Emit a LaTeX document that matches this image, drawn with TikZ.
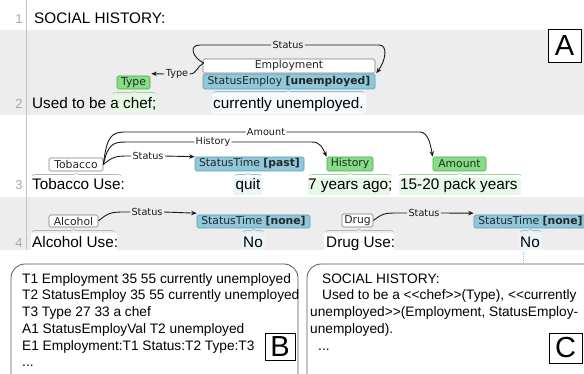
\documentclass[tikz,border=0pt]{standalone}
\usepackage{fontspec}
\setmainfont{Liberation Sans}[Ligatures=TeXOff]
\newfontfamily\labf{DejaVu Sans}
\usetikzlibrary{arrows.meta,decorations.pathreplacing,calc}
\definecolor{rowgray}{HTML}{EDEDED}
\definecolor{gfill}{HTML}{85DE85}
\definecolor{gdraw}{HTML}{4FA34F}
\definecolor{bfill}{HTML}{8FC7DB}
\definecolor{bdraw}{HTML}{5A9BB3}
\definecolor{wdraw}{HTML}{7A7A7A}
\definecolor{ghl}{HTML}{E7F8E7}
\definecolor{bhl}{HTML}{EAF4F9}
\definecolor{whl}{HTML}{F5FAFC}
\definecolor{lnum}{HTML}{A8A8A8}
\definecolor{gbrace}{HTML}{9FD69F}
\definecolor{bbrace}{HTML}{8FBFD0}
\definecolor{wbrace}{HTML}{B5B5B5}
\begin{document}
\begin{tikzpicture}[x=1pt,y=-1pt,
  ent/.style={draw, rounded corners=1.5pt, inner sep=0pt, line width=0.6pt, font=\labf\fontsize{10.8}{12}\selectfont, text=black!85},
  went/.style={ent, fill=white, draw=wdraw},
  gent/.style={ent, fill=gfill, draw=gdraw},
  bent/.style={ent, fill=bfill, draw=bdraw},
  arcl/.style={font=\labf\fontsize{9.7}{11}\selectfont, inner sep=1.2pt, text=black!90},
  arc/.style={line width=0.9pt, draw=black!90},
  arr/.style={arc, -{Stealth[length=5.5pt,width=4.5pt]}},
  brc/.style={decorate, decoration={brace, amplitude=3pt}, line width=0.6pt},
  txt/.style={anchor=base west, inner sep=0pt, font=\fontsize{15.3}{18}\selectfont},
  ctxt/.style={txt, anchor=base},
  num/.style={anchor=base, inner sep=0pt, font=\fontsize{13}{15}\selectfont, text=lnum},
  body/.style={anchor=base west, inner sep=0pt, font=\fontsize{13.7}{16}\selectfont},
  big/.style={draw, line width=0.8pt, fill=white, inner sep=0pt, font=\fontsize{29}{30}\selectfont},
  panel/.style={draw=black!65, line width=0.8pt, rounded corners=14pt}]
\useasboundingbox (0,0) rectangle (584,374);
\clip (0,0) rectangle (584,374);
% row backgrounds
\fill[rowgray] (0,30) rectangle (584,115);
\fill[rowgray] (0,197) rectangle (584,250);
\draw[lnum!70, line width=1pt] (26,0) -- (26,250);
% highlights
\fill[ghl, rounded corners=2pt] (112,95) rectangle (157,113);
\fill[whl, rounded corners=2pt] (212,93) rectangle (366,114);
\fill[bhl, rounded corners=2pt] (233,178) rectangle (262,195);
\fill[ghl, rounded corners=2pt] (308,178) rectangle (391,195);
\fill[ghl, rounded corners=2pt] (399,178) rectangle (521,195);
\fill[white, rounded corners=2pt] (31,233) rectangle (117,250);
\fill[bhl, rounded corners=2pt] (242,233) rectangle (265,250);
\fill[white, rounded corners=2pt] (324,233) rectangle (394,250);
\fill[bhl, rounded corners=2pt] (519,233) rectangle (542,250);
% line numbers
\node[num] (n1) at (19,24) {1};
\node[num] (n2) at (19,109) {2};
\node[num] (n3) at (19,190) {3};
\node[num] (n4) at (19,248) {4};
% text
\node[txt] (t1) at (34,24) {SOCIAL HISTORY:};
\node[txt] (t2a) at (32,109) {Used to be a chef;};
\node[txt] (t2b) at (213,109) {currently unemployed.};
\node[txt] (t3a) at (32,190) {Tobacco Use:};
\node[ctxt] (t3b) at (248,190) {quit};
\node[txt] (t3c) at (308,190) {7 years ago;};
\node[txt] (t3d) at (400,190) {15-20 pack years};
\node[txt] (t4a) at (32,248) {Alcohol Use:};
\node[ctxt] (t4b) at (253,248) {No};
\node[txt] (t4c) at (326,248) {Drug Use:};
\node[ctxt] (t4d) at (530,248) {No};
% braces
\draw[brc, gbrace] (113,94) -- (156,94);
\draw[brc, bbrace] (213,93) -- (364,93);
\draw[brc, wbrace] (32,176) -- (121,176);
\draw[brc, bbrace] (235,176) -- (261,176);
\draw[brc, gbrace] (309,176) -- (391,176);
\draw[brc, gbrace] (399,176) -- (521,176);
\draw[brc, wbrace] (32,232) -- (115,232);
\draw[brc, bbrace] (243,232) -- (264,232);
\draw[brc, wbrace] (325,232) -- (393,232);
\draw[brc, bbrace] (520,232) -- (541,232);
\draw[gray!60, dash pattern=on 1pt off 1pt] (t4d.south) ++(-7,4) coordinate (dl) -- ++(0,12);
% entity boxes
\node[gent, minimum width=33pt, minimum height=13pt] (ty) at (133.5,82.5) {Type};
\node[went, minimum width=172pt, minimum height=14pt] (emp) at (289,66) {Employment};
\node[bent, minimum width=172pt, minimum height=15pt] (se) at (289,81.5) {StatusEmploy \textbf{[unemployed]}};
\node[went, minimum width=54pt, minimum height=13pt] (tob) at (76,164.5) {Tobacco};
\node[bent, minimum width=109pt, minimum height=14pt] (stp) at (249.5,164) {StatusTime \textbf{[past]}};
\node[gent, minimum width=46pt, minimum height=14pt] (his) at (350,164) {History};
\node[gent, minimum width=53pt, minimum height=14pt] (amt) at (459.5,164) {Amount};
\node[went, minimum width=49pt, minimum height=12pt] (alc) at (73.5,221) {Alcohol};
\node[bent, minimum width=113pt, minimum height=13pt] (stn) at (253.5,221.5) {StatusTime \textbf{[none]}};
\node[went, minimum width=31pt, minimum height=13pt] (drg) at (357.5,220.5) {Drug};
\node[bent, minimum width=113pt, minimum height=13pt] (stn2) at (530.5,221.5) {StatusTime \textbf{[none]}};
% arc labels
\node[arcl] (l2s) at (288,45) {Status};
\node[arcl] (l2t) at (177,74) {Type};
\node[arcl] (l3s) at (148,156) {Status};
\node[arcl] (l3h) at (213,142) {History};
\node[arcl] (l3a) at (266,132) {Amount};
\node[arcl] (l4s) at (147,212) {Status};
\node[arcl] (l4d) at (424,213) {Status};
% arcs
\coordinate (e0) at ($(emp.west)+(1,-3)$);
\draw[arc] (e0) .. controls (193,58) and (188,45) .. (200,45) -- (l2s.west);
\draw[arr] (l2s.east) -- (379,45) .. controls (388,45) and (386,60) .. ($(emp.south east)+(1,0)$);
\draw[arc] (e0) .. controls (197,66) and (197,74) .. (l2t.east);
\draw[arr] (l2t.west) -- ($(ty.north east)+(1,-2)$);
\draw[arc] (tob.east) .. controls (112,157) and (116,156) .. (128,156) -- (l3s.west);
\draw[arr] (l3s.east) -- (stp.north west);
\draw[arc] (tob.east) .. controls (108,145) and (112,142) .. (126,142) -- (l3h.west);
\draw[arr] (l3h.east) -- (312,142) .. controls (321,142) and (323,149) .. (his.north west);
\draw[arc] (tob.east) .. controls (107,136) and (111,132) .. (126,132) -- (l3a.west);
\draw[arr] (l3a.east) -- (420,132) .. controls (429,132) and (431,148) .. (amt.north west);
\draw[arc] (alc.east) .. controls (108,213) and (111,212) .. (124,212) -- (l4s.west);
\draw[arr] (l4s.east) -- ($(stn.north west)+(0,-1.5)$);
\draw[arc] (drg.east) .. controls (383,213) and (386,213) .. (398,213) -- (l4d.west);
\draw[arr] (l4d.east) -- ($(stn2.north west)+(0,-1.5)$);
% panel A label
\node[big, minimum width=33pt, minimum height=33pt] (A) at (564.5,45.5) {A};
% bottom panels
\draw[panel] (11,264) rectangle (298,400);
\draw[panel] (307,264) rectangle (600,400);
\node[body] (b1) at (22,283.3) {T1 Employment 35 55 currently unemployed};
\node[body] (b2) at (22,300) {T2 StatusEmploy 35 55 currently unemployed};
\node[body] (b3) at (22,316.7) {T3 Type 27 33 a chef};
\node[body] (b4) at (22,333.3) {A1 StatusEmployVal T2 unemployed};
\node[body] (b5) at (22,350) {E1 Employment:T1 Status:T2 Type:T3};
\node[body] (b6) at (22,366.7) {...};
\node[big, minimum width=30pt, minimum height=27pt] (B) at (280,346.5) {B};
\node[body] (c1) at (322,283.3) {SOCIAL HISTORY:};
\node[body] (c2) at (322,300) {Used to be a <<chef>>(Type), <<currently};
\node[body] (c3) at (310,316.7) {unemployed>>(Employment, StatusEmploy-};
\node[body] (c4) at (310,333.3) {unemployed).};
\node[body] (c5) at (318,350) {...};
\node[big, minimum width=33pt, minimum height=30pt] (C) at (565.5,348) {C};
\end{tikzpicture}
\end{document}
